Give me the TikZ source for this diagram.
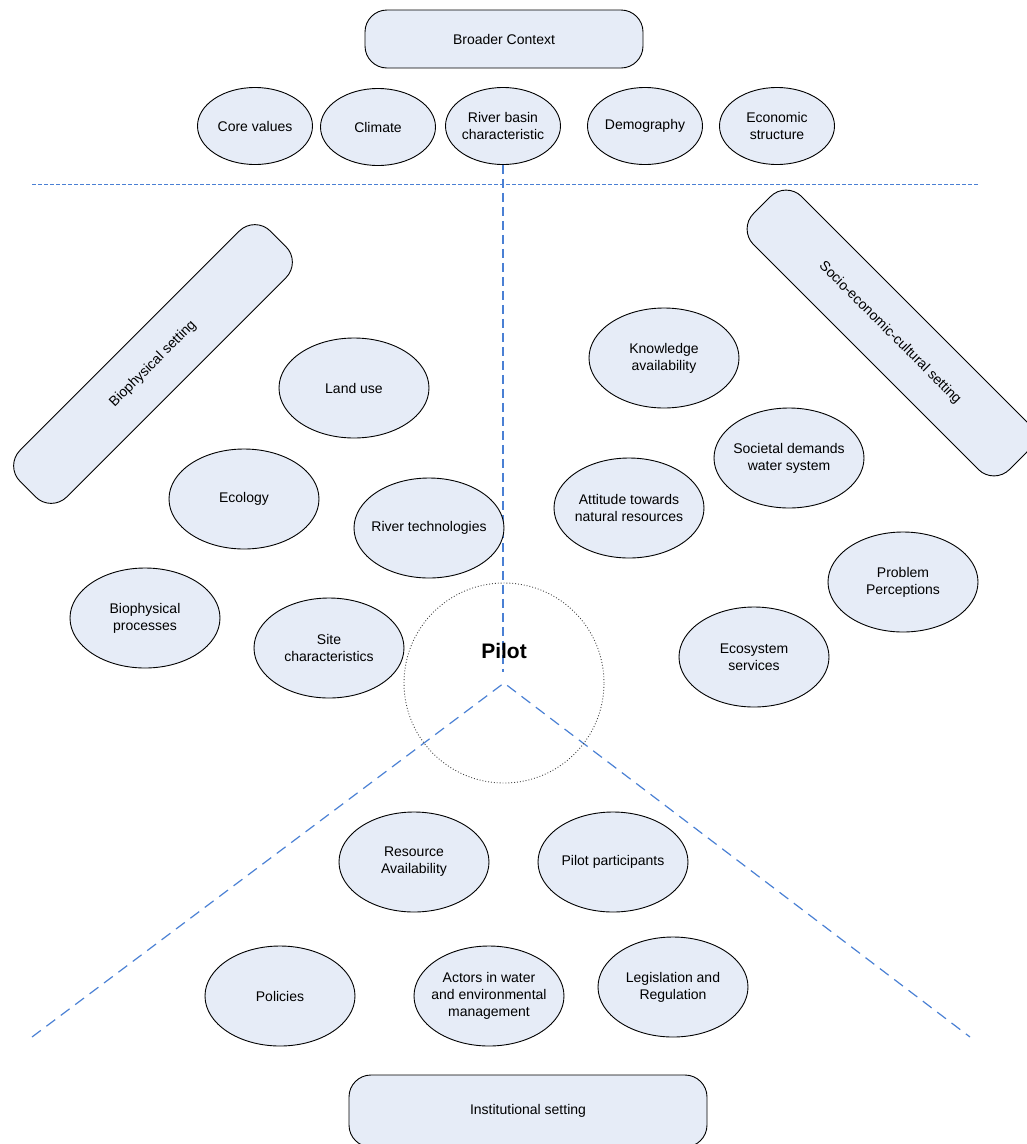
\documentclass[tikz,border=0pt]{standalone}
\usepackage{fontspec}
\setmainfont{Liberation Sans}
\usetikzlibrary{shapes.geometric}
\definecolor{boxfill}{HTML}{E6ECF7}
\definecolor{guide}{HTML}{4A80D4}
\begin{document}
\begin{tikzpicture}[x=1pt,y=-1pt,
  every node/.style={font=\fontsize{14}{17}\selectfont, align=center},
  factor/.style={ellipse, draw=black, line width=0.9pt, fill=boxfill,
    minimum width=150pt, minimum height=100pt, inner xsep=-14pt, inner ysep=0pt},
  topfactor/.style={factor, minimum width=115pt, minimum height=77pt},
  setting/.style={rectangle, rounded corners=22pt, draw=black, line width=0.9pt,
    fill=boxfill, inner sep=0pt},
  guideline/.style={draw=guide, line width=1.2pt}]
\useasboundingbox (0,0) rectangle (1027,1144);

% broader context
\node[setting, minimum width=278pt, minimum height=58pt] (broader) at (504,39) {Broader Context};
\node[topfactor] (core) at (255,126) {Core values};
\node[topfactor] (climate) at (378,127) {Climate};
\node[topfactor] (basin) at (503,126) {River basin\\characteristic};
\node[topfactor] (demo) at (645,126) {Demography};
\node[topfactor] (econ) at (777,126) {Economic\\structure};

% guide lines
\coordinate (hl) at (32,184);
\coordinate (hr) at (978,184);
\coordinate (vend) at (503,672);
\coordinate (apex) at (504,683);
\coordinate (vl) at (32,1037);
\coordinate (vr) at (970,1037);
\draw[guideline, line width=1pt, dash pattern=on 4pt off 2pt] (hl) -- (hr);
\draw[guideline, dash pattern=on 9pt off 5pt] (basin.south) -- (vend);
\draw[guideline, dash pattern=on 11pt off 7pt] (vl) -- (apex) -- (vr);

% pilot
\node[circle, draw=black!75, dotted, line width=0.9pt, minimum size=200pt, inner sep=0pt] (pilot) at (apex) {};
\node[font=\fontsize{21}{24}\selectfont\bfseries] (pilotlabel) at (504,651) {Pilot};

% biophysical setting
\node[setting, rotate=45, minimum width=354pt, minimum height=66pt] (bio) at (153,364) {Biophysical setting};
\node[factor] (landuse) at (354,388) {Land use};
\node[factor] (ecology) at (244,499) {Ecology};
\node[factor] (rivertech) at (429,528) {River technologies};
\node[factor] (bioproc) at (145,618) {Biophysical\\processes};
\node[factor] (site) at (329,648) {Site\\characteristics};

% socio-economic-cultural setting
\node[setting, rotate=-45, minimum width=362pt, minimum height=68pt] (socio) at (890,333) {Socio-economic-cultural setting};
\node[factor] (knowledge) at (664,358) {Knowledge\\availability};
\node[factor] (societal) at (789,458) {Societal demands\\water system};
\node[factor] (attitude) at (629,508) {Attitude towards\\natural resources};
\node[factor] (problem) at (903,582) {Problem\\Perceptions};
\node[factor] (ecosys) at (754,657) {Ecosystem\\services};

% institutional setting
\node[factor] (resource) at (414,862) {Resource\\Availability};
\node[factor] (participants) at (613,862) {Pilot participants};
\node[factor] (policies) at (280,996) {Policies};
\node[factor] (actors) at (489,996) {Actors in water\\and environmental\\management};
\node[factor] (legis) at (673,987) {Legislation and\\Regulation};
\node[setting, minimum width=358pt, minimum height=72pt] (inst) at (528,1111) {Institutional setting};
\end{tikzpicture}
\end{document}
